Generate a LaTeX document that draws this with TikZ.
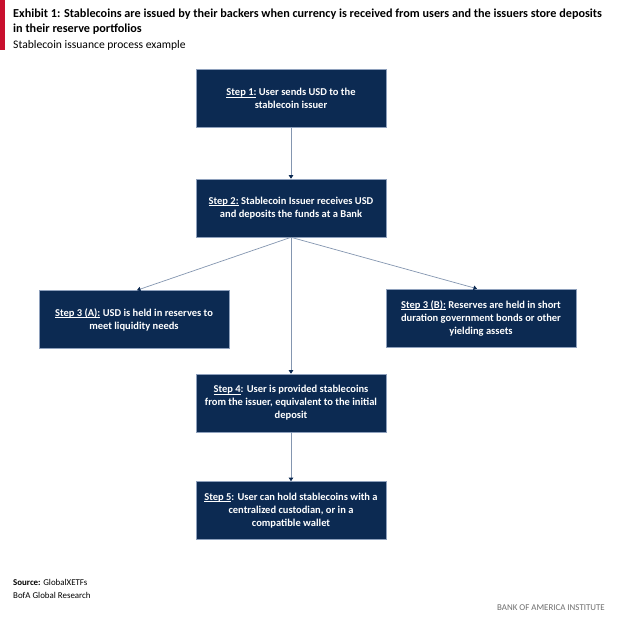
\documentclass[tikz,border=0pt]{standalone}
\usepackage{fontspec}
\setmainfont{Carlito}
\usetikzlibrary{arrows.meta,calc}

\definecolor{navybox}{HTML}{0C2A52}
\definecolor{boxrim}{HTML}{8EA0BC}
\definecolor{linkline}{HTML}{8496B0}
\definecolor{bofared}{HTML}{C8102E}
\definecolor{footgray}{HTML}{6E6E6E}

% underline that sits close to the baseline
\newcommand\stepul[1]{\setbox0\hbox{#1}\rlap{\rule[-1.4pt]{\wd0}{0.55pt}}\box0\relax}

\tikzset{
    stepbox/.style={draw=boxrim, line width=0.6pt, fill=navybox, text=white,
        minimum width=190pt, minimum height=58pt, inner sep=0pt,
        align=center, font=\fontsize{10.5}{13}\selectfont\bfseries},
    link/.style={draw=linkline, line width=0.7pt,
        -{Triangle[width=4.5pt,length=3.5pt,color=navybox]}},
    plain text/.style={anchor=base west, inner sep=0pt},
}

\begin{document}
\begin{tikzpicture}[x=1pt,y=-1pt]
    \useasboundingbox[fill=white] (0,0) rectangle (629,622);

    % Heading
    \fill[bofared] (0,0) rectangle (4.5,50);
    \node[plain text, font=\fontsize{12.2}{15}\selectfont\bfseries] (title1) at (13,17.5)
        {Exhibit 1: Stablecoins are issued by their backers when currency is received from users and the issuers store deposits};
    \node[plain text, font=\fontsize{12.2}{15}\selectfont\bfseries] (title2) at (13,32.5)
        {in their reserve portfolios};
    \node[plain text, font=\fontsize{11.6}{15}\selectfont] (subtitle) at (13,48)
        {Stablecoin issuance process example};

    % Steps
    \node[stepbox] (s1) at (291,98.5) {\stepul{Step 1:} User sends USD to the\\stablecoin issuer};
    \node[stepbox] (s2) at (291,208) {\stepul{Step 2:} Stablecoin Issuer receives USD\\and deposits the funds at a Bank};
    \node[stepbox] (s3a) at (134,319.5) {\stepul{Step 3 (A):} USD is held in reserves to\\meet liquidity needs};
    \node[stepbox] (s3b) at (481,318) {\stepul{Step 3 (B):} Reserves are held in short\\duration government bonds or other\\yielding assets};
    \node[stepbox] (s4) at (291,403) {\stepul{Step 4}: User is provided stablecoins\\from the issuer, equivalent to the initial\\deposit};
    \node[stepbox] (s5) at (291,510.5) {\stepul{Step 5}: User can hold stablecoins with a\\centralized custodian, or in a\\compatible wallet};

    % Connectors
    \draw[link] (s1.south) -- (s2.north);
    \draw[link] (s2.south) -- ($(s3a.north)+(3,0)$);
    \draw[link] (s2.south) -- ($(s3b.north)+(-4,0)$);
    \draw[link] (s2.south) -- (s4.north);
    \draw[link] (s4.south) -- (s5.north);

    % Footer
    \node[plain text, font=\fontsize{8.9}{11}\selectfont] (source) at (13,585)
        {\textbf{Source:} GlobalXETFs};
    \node[plain text, font=\fontsize{8.9}{11}\selectfont] (research) at (13,598)
        {BofA Global Research};
    \node[plain text, anchor=base east, text=footgray, font=\fontsize{8.9}{11}\selectfont] (brand) at (605,610)
        {BANK OF AMERICA INSTITUTE};
\end{tikzpicture}
\end{document}
